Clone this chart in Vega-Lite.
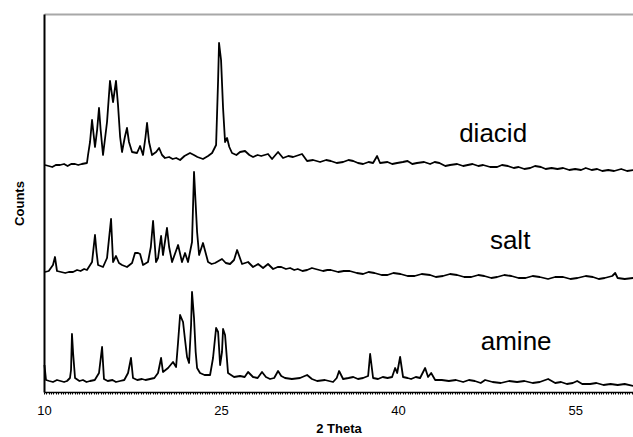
{
  "$schema": "https://vega.github.io/schema/vega-lite/v6.json",
  "width": 589,
  "height": 378,
  "autosize": {"type": "none"},
  "padding": {"left": 44, "top": 14, "right": 0, "bottom": 45},
  "background": "white",
  "config": {"view": {"stroke": null}, "font": "Liberation Sans"},
  "datasets": {
    "traces": [
      {"sample": "diacid", "theta": 10.08, "counts": 227},
      {"sample": "diacid", "theta": 10.4, "counts": 226},
      {"sample": "diacid", "theta": 10.7, "counts": 225},
      {"sample": "diacid", "theta": 11.0, "counts": 227},
      {"sample": "diacid", "theta": 11.36, "counts": 227},
      {"sample": "diacid", "theta": 11.7, "counts": 228},
      {"sample": "diacid", "theta": 12.0, "counts": 226},
      {"sample": "diacid", "theta": 12.3, "counts": 228},
      {"sample": "diacid", "theta": 12.63, "counts": 228},
      {"sample": "diacid", "theta": 12.9, "counts": 227},
      {"sample": "diacid", "theta": 13.2, "counts": 228},
      {"sample": "diacid", "theta": 13.64, "counts": 229},
      {"sample": "diacid", "theta": 13.73, "counts": 237},
      {"sample": "diacid", "theta": 13.9, "counts": 250},
      {"sample": "diacid", "theta": 14.07, "counts": 272},
      {"sample": "diacid", "theta": 14.32, "counts": 245},
      {"sample": "diacid", "theta": 14.5, "counts": 262},
      {"sample": "diacid", "theta": 14.66, "counts": 284},
      {"sample": "diacid", "theta": 14.8, "counts": 262},
      {"sample": "diacid", "theta": 15.0, "counts": 237},
      {"sample": "diacid", "theta": 15.34, "counts": 270},
      {"sample": "diacid", "theta": 15.59, "counts": 311},
      {"sample": "diacid", "theta": 15.85, "counts": 290},
      {"sample": "diacid", "theta": 16.1, "counts": 311},
      {"sample": "diacid", "theta": 16.27, "counts": 287},
      {"sample": "diacid", "theta": 16.45, "counts": 255},
      {"sample": "diacid", "theta": 16.61, "counts": 240},
      {"sample": "diacid", "theta": 16.85, "counts": 255},
      {"sample": "diacid", "theta": 17.03, "counts": 264},
      {"sample": "diacid", "theta": 17.2, "counts": 250},
      {"sample": "diacid", "theta": 17.46, "counts": 240},
      {"sample": "diacid", "theta": 17.88, "counts": 239},
      {"sample": "diacid", "theta": 18.14, "counts": 246},
      {"sample": "diacid", "theta": 18.39, "counts": 237},
      {"sample": "diacid", "theta": 18.6, "counts": 255},
      {"sample": "diacid", "theta": 18.73, "counts": 269},
      {"sample": "diacid", "theta": 18.9, "counts": 250},
      {"sample": "diacid", "theta": 19.15, "counts": 237},
      {"sample": "diacid", "theta": 19.5, "counts": 240},
      {"sample": "diacid", "theta": 19.75, "counts": 244},
      {"sample": "diacid", "theta": 20.0, "counts": 237},
      {"sample": "diacid", "theta": 20.25, "counts": 234},
      {"sample": "diacid", "theta": 20.6, "counts": 235},
      {"sample": "diacid", "theta": 20.9, "counts": 233},
      {"sample": "diacid", "theta": 21.2, "counts": 234},
      {"sample": "diacid", "theta": 21.53, "counts": 232},
      {"sample": "diacid", "theta": 21.9, "counts": 236},
      {"sample": "diacid", "theta": 22.37, "counts": 239},
      {"sample": "diacid", "theta": 22.7, "counts": 237},
      {"sample": "diacid", "theta": 23.0, "counts": 235},
      {"sample": "diacid", "theta": 23.47, "counts": 233},
      {"sample": "diacid", "theta": 23.9, "counts": 236},
      {"sample": "diacid", "theta": 24.24, "counts": 239},
      {"sample": "diacid", "theta": 24.58, "counts": 247},
      {"sample": "diacid", "theta": 24.75, "counts": 312},
      {"sample": "diacid", "theta": 24.83, "counts": 349},
      {"sample": "diacid", "theta": 25.0, "counts": 332},
      {"sample": "diacid", "theta": 25.17, "counts": 284},
      {"sample": "diacid", "theta": 25.34, "counts": 250},
      {"sample": "diacid", "theta": 25.51, "counts": 254},
      {"sample": "diacid", "theta": 25.7, "counts": 245},
      {"sample": "diacid", "theta": 25.93, "counts": 239},
      {"sample": "diacid", "theta": 26.3, "counts": 237},
      {"sample": "diacid", "theta": 26.61, "counts": 240},
      {"sample": "diacid", "theta": 27.03, "counts": 241},
      {"sample": "diacid", "theta": 27.4, "counts": 237},
      {"sample": "diacid", "theta": 27.71, "counts": 235},
      {"sample": "diacid", "theta": 28.1, "counts": 237},
      {"sample": "diacid", "theta": 28.4, "counts": 236},
      {"sample": "diacid", "theta": 28.98, "counts": 238},
      {"sample": "diacid", "theta": 29.32, "counts": 233},
      {"sample": "diacid", "theta": 29.83, "counts": 240},
      {"sample": "diacid", "theta": 30.25, "counts": 234},
      {"sample": "diacid", "theta": 30.7, "counts": 236},
      {"sample": "diacid", "theta": 31.1, "counts": 235},
      {"sample": "diacid", "theta": 31.86, "counts": 238},
      {"sample": "diacid", "theta": 32.29, "counts": 231},
      {"sample": "diacid", "theta": 32.8, "counts": 232},
      {"sample": "diacid", "theta": 33.39, "counts": 230},
      {"sample": "diacid", "theta": 33.9, "counts": 232},
      {"sample": "diacid", "theta": 34.3, "counts": 231},
      {"sample": "diacid", "theta": 34.8, "counts": 229},
      {"sample": "diacid", "theta": 35.34, "counts": 230},
      {"sample": "diacid", "theta": 35.8, "counts": 232},
      {"sample": "diacid", "theta": 36.2, "counts": 231},
      {"sample": "diacid", "theta": 36.6, "counts": 229},
      {"sample": "diacid", "theta": 37.03, "counts": 228},
      {"sample": "diacid", "theta": 37.5, "counts": 230},
      {"sample": "diacid", "theta": 37.88, "counts": 229},
      {"sample": "diacid", "theta": 38.22, "counts": 236},
      {"sample": "diacid", "theta": 38.47, "counts": 229},
      {"sample": "diacid", "theta": 39.1, "counts": 230},
      {"sample": "diacid", "theta": 39.5, "counts": 228},
      {"sample": "diacid", "theta": 39.92, "counts": 229},
      {"sample": "diacid", "theta": 40.4, "counts": 230},
      {"sample": "diacid", "theta": 40.8, "counts": 231},
      {"sample": "diacid", "theta": 41.2, "counts": 228},
      {"sample": "diacid", "theta": 41.6, "counts": 229},
      {"sample": "diacid", "theta": 42.2, "counts": 230},
      {"sample": "diacid", "theta": 42.71, "counts": 228},
      {"sample": "diacid", "theta": 43.1, "counts": 230},
      {"sample": "diacid", "theta": 43.5, "counts": 229},
      {"sample": "diacid", "theta": 44.0, "counts": 226},
      {"sample": "diacid", "theta": 44.4, "counts": 227},
      {"sample": "diacid", "theta": 45.0, "counts": 228},
      {"sample": "diacid", "theta": 45.51, "counts": 226},
      {"sample": "diacid", "theta": 46.3, "counts": 228},
      {"sample": "diacid", "theta": 46.8, "counts": 226},
      {"sample": "diacid", "theta": 47.2, "counts": 227},
      {"sample": "diacid", "theta": 47.8, "counts": 225},
      {"sample": "diacid", "theta": 48.39, "counts": 225},
      {"sample": "diacid", "theta": 48.8, "counts": 227},
      {"sample": "diacid", "theta": 49.3, "counts": 226},
      {"sample": "diacid", "theta": 49.8, "counts": 224},
      {"sample": "diacid", "theta": 50.2, "counts": 225},
      {"sample": "diacid", "theta": 50.7, "counts": 223},
      {"sample": "diacid", "theta": 51.19, "counts": 224},
      {"sample": "diacid", "theta": 51.6, "counts": 226},
      {"sample": "diacid", "theta": 52.1, "counts": 225},
      {"sample": "diacid", "theta": 52.5, "counts": 223},
      {"sample": "diacid", "theta": 53.0, "counts": 224},
      {"sample": "diacid", "theta": 53.5, "counts": 223},
      {"sample": "diacid", "theta": 53.98, "counts": 224},
      {"sample": "diacid", "theta": 54.5, "counts": 222},
      {"sample": "diacid", "theta": 55.0, "counts": 223},
      {"sample": "diacid", "theta": 55.5, "counts": 222},
      {"sample": "diacid", "theta": 55.9, "counts": 224},
      {"sample": "diacid", "theta": 56.4, "counts": 222},
      {"sample": "diacid", "theta": 56.86, "counts": 223},
      {"sample": "diacid", "theta": 57.3, "counts": 221},
      {"sample": "diacid", "theta": 57.8, "counts": 222},
      {"sample": "diacid", "theta": 58.3, "counts": 221},
      {"sample": "diacid", "theta": 58.9, "counts": 223},
      {"sample": "diacid", "theta": 59.4, "counts": 221},
      {"sample": "diacid", "theta": 59.92, "counts": 222},

      {"sample": "salt", "theta": 10.08, "counts": 120},
      {"sample": "salt", "theta": 10.4, "counts": 121},
      {"sample": "salt", "theta": 10.76, "counts": 127},
      {"sample": "salt", "theta": 10.93, "counts": 135},
      {"sample": "salt", "theta": 11.1, "counts": 121},
      {"sample": "salt", "theta": 11.45, "counts": 120},
      {"sample": "salt", "theta": 11.8, "counts": 119},
      {"sample": "salt", "theta": 12.1, "counts": 120},
      {"sample": "salt", "theta": 12.46, "counts": 120},
      {"sample": "salt", "theta": 12.8, "counts": 122},
      {"sample": "salt", "theta": 13.1, "counts": 121},
      {"sample": "salt", "theta": 13.4, "counts": 123},
      {"sample": "salt", "theta": 13.64, "counts": 122},
      {"sample": "salt", "theta": 14.07, "counts": 130},
      {"sample": "salt", "theta": 14.32, "counts": 157},
      {"sample": "salt", "theta": 14.45, "counts": 140},
      {"sample": "salt", "theta": 14.58, "counts": 127},
      {"sample": "salt", "theta": 15.0, "counts": 125},
      {"sample": "salt", "theta": 15.34, "counts": 134},
      {"sample": "salt", "theta": 15.68, "counts": 173},
      {"sample": "salt", "theta": 15.85, "counts": 130},
      {"sample": "salt", "theta": 16.1, "counts": 136},
      {"sample": "salt", "theta": 16.35, "counts": 129},
      {"sample": "salt", "theta": 16.61, "counts": 127},
      {"sample": "salt", "theta": 17.03, "counts": 125},
      {"sample": "salt", "theta": 17.46, "counts": 129},
      {"sample": "salt", "theta": 17.71, "counts": 139},
      {"sample": "salt", "theta": 17.97, "counts": 139},
      {"sample": "salt", "theta": 18.14, "counts": 138},
      {"sample": "salt", "theta": 18.39, "counts": 127},
      {"sample": "salt", "theta": 18.81, "counts": 130},
      {"sample": "salt", "theta": 19.05, "counts": 145},
      {"sample": "salt", "theta": 19.24, "counts": 171},
      {"sample": "salt", "theta": 19.49, "counts": 130},
      {"sample": "salt", "theta": 19.66, "counts": 134},
      {"sample": "salt", "theta": 19.92, "counts": 156},
      {"sample": "salt", "theta": 20.08, "counts": 137},
      {"sample": "salt", "theta": 20.42, "counts": 164},
      {"sample": "salt", "theta": 20.6, "counts": 145},
      {"sample": "salt", "theta": 20.85, "counts": 130},
      {"sample": "salt", "theta": 21.36, "counts": 147},
      {"sample": "salt", "theta": 21.69, "counts": 130},
      {"sample": "salt", "theta": 21.95, "counts": 139},
      {"sample": "salt", "theta": 22.2, "counts": 130},
      {"sample": "salt", "theta": 22.54, "counts": 150},
      {"sample": "salt", "theta": 22.71, "counts": 220},
      {"sample": "salt", "theta": 22.97, "counts": 160},
      {"sample": "salt", "theta": 23.14, "counts": 137},
      {"sample": "salt", "theta": 23.47, "counts": 149},
      {"sample": "salt", "theta": 23.9, "counts": 130},
      {"sample": "salt", "theta": 24.2, "counts": 128},
      {"sample": "salt", "theta": 24.49, "counts": 129},
      {"sample": "salt", "theta": 25.08, "counts": 133},
      {"sample": "salt", "theta": 25.4, "counts": 129},
      {"sample": "salt", "theta": 25.76, "counts": 128},
      {"sample": "salt", "theta": 26.1, "counts": 132},
      {"sample": "salt", "theta": 26.36, "counts": 142},
      {"sample": "salt", "theta": 26.78, "counts": 128},
      {"sample": "salt", "theta": 27.29, "counts": 130},
      {"sample": "salt", "theta": 27.71, "counts": 125},
      {"sample": "salt", "theta": 28.14, "counts": 128},
      {"sample": "salt", "theta": 28.56, "counts": 124},
      {"sample": "salt", "theta": 28.98, "counts": 128},
      {"sample": "salt", "theta": 29.41, "counts": 123},
      {"sample": "salt", "theta": 29.8, "counts": 125},
      {"sample": "salt", "theta": 30.1, "counts": 125},
      {"sample": "salt", "theta": 30.5, "counts": 123},
      {"sample": "salt", "theta": 30.85, "counts": 124},
      {"sample": "salt", "theta": 31.2, "counts": 122},
      {"sample": "salt", "theta": 31.5, "counts": 123},
      {"sample": "salt", "theta": 31.9, "counts": 121},
      {"sample": "salt", "theta": 32.29, "counts": 122},
      {"sample": "salt", "theta": 32.7, "counts": 124},
      {"sample": "salt", "theta": 33.0, "counts": 123},
      {"sample": "salt", "theta": 33.64, "counts": 121},
      {"sample": "salt", "theta": 34.0, "counts": 122},
      {"sample": "salt", "theta": 34.3, "counts": 122},
      {"sample": "salt", "theta": 34.92, "counts": 120},
      {"sample": "salt", "theta": 35.4, "counts": 121},
      {"sample": "salt", "theta": 35.9, "counts": 121},
      {"sample": "salt", "theta": 36.5, "counts": 119},
      {"sample": "salt", "theta": 37.03, "counts": 118},
      {"sample": "salt", "theta": 37.5, "counts": 120},
      {"sample": "salt", "theta": 38.0, "counts": 119},
      {"sample": "salt", "theta": 38.6, "counts": 117},
      {"sample": "salt", "theta": 39.1, "counts": 117},
      {"sample": "salt", "theta": 39.6, "counts": 119},
      {"sample": "salt", "theta": 40.2, "counts": 118},
      {"sample": "salt", "theta": 40.8, "counts": 116},
      {"sample": "salt", "theta": 41.4, "counts": 116},
      {"sample": "salt", "theta": 42.0, "counts": 118},
      {"sample": "salt", "theta": 42.71, "counts": 117},
      {"sample": "salt", "theta": 43.2, "counts": 115},
      {"sample": "salt", "theta": 43.8, "counts": 116},
      {"sample": "salt", "theta": 44.4, "counts": 118},
      {"sample": "salt", "theta": 45.0, "counts": 117},
      {"sample": "salt", "theta": 45.6, "counts": 115},
      {"sample": "salt", "theta": 46.2, "counts": 115},
      {"sample": "salt", "theta": 46.8, "counts": 117},
      {"sample": "salt", "theta": 47.3, "counts": 116},
      {"sample": "salt", "theta": 47.9, "counts": 114},
      {"sample": "salt", "theta": 48.39, "counts": 115},
      {"sample": "salt", "theta": 49.0, "counts": 117},
      {"sample": "salt", "theta": 49.6, "counts": 116},
      {"sample": "salt", "theta": 50.2, "counts": 114},
      {"sample": "salt", "theta": 50.8, "counts": 114},
      {"sample": "salt", "theta": 51.4, "counts": 116},
      {"sample": "salt", "theta": 52.0, "counts": 115},
      {"sample": "salt", "theta": 52.7, "counts": 113},
      {"sample": "salt", "theta": 53.3, "counts": 115},
      {"sample": "salt", "theta": 53.98, "counts": 115},
      {"sample": "salt", "theta": 54.6, "counts": 113},
      {"sample": "salt", "theta": 55.2, "counts": 114},
      {"sample": "salt", "theta": 55.9, "counts": 116},
      {"sample": "salt", "theta": 56.5, "counts": 115},
      {"sample": "salt", "theta": 57.0, "counts": 113},
      {"sample": "salt", "theta": 57.5, "counts": 114},
      {"sample": "salt", "theta": 58.14, "counts": 116},
      {"sample": "salt", "theta": 58.39, "counts": 119},
      {"sample": "salt", "theta": 58.6, "counts": 114},
      {"sample": "salt", "theta": 59.2, "counts": 113},
      {"sample": "salt", "theta": 59.92, "counts": 114},

      {"sample": "amine", "theta": 10.04, "counts": 27},
      {"sample": "amine", "theta": 10.17, "counts": 12},
      {"sample": "amine", "theta": 10.45, "counts": 11},
      {"sample": "amine", "theta": 10.76, "counts": 10},
      {"sample": "amine", "theta": 11.1, "counts": 12},
      {"sample": "amine", "theta": 11.4, "counts": 11},
      {"sample": "amine", "theta": 11.7, "counts": 10},
      {"sample": "amine", "theta": 11.95, "counts": 11},
      {"sample": "amine", "theta": 12.2, "counts": 14},
      {"sample": "amine", "theta": 12.29, "counts": 22},
      {"sample": "amine", "theta": 12.37, "counts": 58},
      {"sample": "amine", "theta": 12.47, "counts": 38},
      {"sample": "amine", "theta": 12.63, "counts": 14},
      {"sample": "amine", "theta": 13.0, "counts": 11},
      {"sample": "amine", "theta": 13.3, "counts": 12},
      {"sample": "amine", "theta": 13.6, "counts": 10},
      {"sample": "amine", "theta": 13.9, "counts": 11},
      {"sample": "amine", "theta": 14.3, "counts": 12},
      {"sample": "amine", "theta": 14.66, "counts": 19},
      {"sample": "amine", "theta": 14.92, "counts": 45},
      {"sample": "amine", "theta": 15.08, "counts": 13},
      {"sample": "amine", "theta": 15.4, "counts": 11},
      {"sample": "amine", "theta": 15.8, "counts": 12},
      {"sample": "amine", "theta": 16.1, "counts": 10},
      {"sample": "amine", "theta": 16.44, "counts": 11},
      {"sample": "amine", "theta": 16.8, "counts": 12},
      {"sample": "amine", "theta": 17.12, "counts": 19},
      {"sample": "amine", "theta": 17.37, "counts": 34},
      {"sample": "amine", "theta": 17.54, "counts": 14},
      {"sample": "amine", "theta": 17.9, "counts": 12},
      {"sample": "amine", "theta": 18.3, "counts": 13},
      {"sample": "amine", "theta": 18.6, "counts": 12},
      {"sample": "amine", "theta": 18.98, "counts": 13},
      {"sample": "amine", "theta": 19.35, "counts": 14},
      {"sample": "amine", "theta": 19.66, "counts": 19},
      {"sample": "amine", "theta": 19.92, "counts": 34},
      {"sample": "amine", "theta": 20.08, "counts": 20},
      {"sample": "amine", "theta": 20.51, "counts": 24},
      {"sample": "amine", "theta": 20.93, "counts": 30},
      {"sample": "amine", "theta": 21.19, "counts": 25},
      {"sample": "amine", "theta": 21.36, "counts": 50},
      {"sample": "amine", "theta": 21.53, "counts": 77},
      {"sample": "amine", "theta": 21.78, "counts": 70},
      {"sample": "amine", "theta": 21.95, "counts": 52},
      {"sample": "amine", "theta": 22.12, "counts": 35},
      {"sample": "amine", "theta": 22.29, "counts": 29},
      {"sample": "amine", "theta": 22.46, "counts": 67},
      {"sample": "amine", "theta": 22.54, "counts": 100},
      {"sample": "amine", "theta": 22.71, "counts": 74},
      {"sample": "amine", "theta": 22.85, "counts": 40},
      {"sample": "amine", "theta": 22.97, "counts": 24},
      {"sample": "amine", "theta": 23.22, "counts": 19},
      {"sample": "amine", "theta": 23.6, "counts": 17},
      {"sample": "amine", "theta": 24.07, "counts": 17},
      {"sample": "amine", "theta": 24.32, "counts": 34},
      {"sample": "amine", "theta": 24.58, "counts": 64},
      {"sample": "amine", "theta": 24.75, "counts": 60},
      {"sample": "amine", "theta": 24.92, "counts": 27},
      {"sample": "amine", "theta": 25.08, "counts": 40},
      {"sample": "amine", "theta": 25.17, "counts": 63},
      {"sample": "amine", "theta": 25.34, "counts": 57},
      {"sample": "amine", "theta": 25.59, "counts": 19},
      {"sample": "amine", "theta": 26.1, "counts": 15},
      {"sample": "amine", "theta": 26.61, "counts": 16},
      {"sample": "amine", "theta": 27.0, "counts": 15},
      {"sample": "amine", "theta": 27.29, "counts": 20},
      {"sample": "amine", "theta": 27.71, "counts": 15},
      {"sample": "amine", "theta": 28.1, "counts": 14},
      {"sample": "amine", "theta": 28.47, "counts": 20},
      {"sample": "amine", "theta": 28.8, "counts": 15},
      {"sample": "amine", "theta": 29.15, "counts": 13},
      {"sample": "amine", "theta": 29.5, "counts": 14},
      {"sample": "amine", "theta": 29.83, "counts": 21},
      {"sample": "amine", "theta": 30.1, "counts": 16},
      {"sample": "amine", "theta": 30.42, "counts": 14},
      {"sample": "amine", "theta": 31.0, "counts": 13},
      {"sample": "amine", "theta": 31.69, "counts": 14},
      {"sample": "amine", "theta": 32.29, "counts": 17},
      {"sample": "amine", "theta": 32.7, "counts": 13},
      {"sample": "amine", "theta": 33.14, "counts": 11},
      {"sample": "amine", "theta": 33.8, "counts": 12},
      {"sample": "amine", "theta": 34.49, "counts": 10},
      {"sample": "amine", "theta": 34.8, "counts": 14},
      {"sample": "amine", "theta": 35.0, "counts": 21},
      {"sample": "amine", "theta": 35.34, "counts": 13},
      {"sample": "amine", "theta": 35.8, "counts": 14},
      {"sample": "amine", "theta": 36.2, "counts": 15},
      {"sample": "amine", "theta": 36.6, "counts": 13},
      {"sample": "amine", "theta": 37.03, "counts": 14},
      {"sample": "amine", "theta": 37.46, "counts": 16},
      {"sample": "amine", "theta": 37.63, "counts": 38},
      {"sample": "amine", "theta": 37.88, "counts": 14},
      {"sample": "amine", "theta": 38.3, "counts": 13},
      {"sample": "amine", "theta": 38.7, "counts": 15},
      {"sample": "amine", "theta": 39.1, "counts": 14},
      {"sample": "amine", "theta": 39.49, "counts": 15},
      {"sample": "amine", "theta": 39.75, "counts": 24},
      {"sample": "amine", "theta": 39.92, "counts": 19},
      {"sample": "amine", "theta": 40.17, "counts": 35},
      {"sample": "amine", "theta": 40.42, "counts": 15},
      {"sample": "amine", "theta": 40.8, "counts": 14},
      {"sample": "amine", "theta": 41.1, "counts": 13},
      {"sample": "amine", "theta": 41.5, "counts": 15},
      {"sample": "amine", "theta": 41.86, "counts": 14},
      {"sample": "amine", "theta": 42.29, "counts": 24},
      {"sample": "amine", "theta": 42.54, "counts": 15},
      {"sample": "amine", "theta": 42.8, "counts": 19},
      {"sample": "amine", "theta": 43.14, "counts": 12},
      {"sample": "amine", "theta": 43.7, "counts": 12},
      {"sample": "amine", "theta": 44.3, "counts": 11},
      {"sample": "amine", "theta": 44.9, "counts": 12},
      {"sample": "amine", "theta": 45.51, "counts": 10},
      {"sample": "amine", "theta": 46.0, "counts": 12},
      {"sample": "amine", "theta": 46.5, "counts": 11},
      {"sample": "amine", "theta": 47.0, "counts": 9},
      {"sample": "amine", "theta": 47.37, "counts": 12},
      {"sample": "amine", "theta": 48.0, "counts": 10},
      {"sample": "amine", "theta": 48.7, "counts": 9},
      {"sample": "amine", "theta": 49.4, "counts": 11},
      {"sample": "amine", "theta": 50.08, "counts": 10},
      {"sample": "amine", "theta": 50.7, "counts": 11},
      {"sample": "amine", "theta": 51.4, "counts": 9},
      {"sample": "amine", "theta": 52.0, "counts": 10},
      {"sample": "amine", "theta": 52.71, "counts": 13},
      {"sample": "amine", "theta": 53.31, "counts": 9},
      {"sample": "amine", "theta": 53.8, "counts": 10},
      {"sample": "amine", "theta": 54.3, "counts": 8},
      {"sample": "amine", "theta": 54.8, "counts": 9},
      {"sample": "amine", "theta": 55.17, "counts": 11},
      {"sample": "amine", "theta": 55.6, "counts": 8},
      {"sample": "amine", "theta": 56.27, "counts": 8},
      {"sample": "amine", "theta": 56.8, "counts": 9},
      {"sample": "amine", "theta": 57.4, "counts": 7},
      {"sample": "amine", "theta": 58.0, "counts": 8},
      {"sample": "amine", "theta": 58.6, "counts": 7},
      {"sample": "amine", "theta": 59.2, "counts": 8},
      {"sample": "amine", "theta": 59.92, "counts": 6}
    ],
    "labels": [
      {"label": "diacid", "theta": 48.05, "counts": 250},
      {"label": "salt", "theta": 49.49, "counts": 143},
      {"label": "amine", "theta": 50.0, "counts": 42}
    ]
  },
  "layer": [
    {
      "data": {"name": "traces"},
      "mark": {"type": "line", "color": "black", "strokeWidth": 1.8, "strokeJoin": "round"},
      "encoding": {
        "x": {
          "field": "theta", "type": "quantitative",
          "scale": {"domain": [10, 59.9], "nice": false, "zero": false},
          "axis": {
            "orient": "bottom", "grid": false, "tickCount": 250,
            "tickSize": 2, "tickColor": "black", "tickWidth": 1,
            "domainColor": "black", "domainWidth": 1.5,
            "labelExpr": "(abs(datum.value - round(datum.value)) < 0.01 && (round(datum.value) - 10) % 15 == 0) ? format(datum.value, 'd') : ''",
            "labelOverlap": false, "labelFlush": false, "labelFontSize": 13, "labelColor": "black",
            "labelPadding": 10,
            "title": "2 Theta", "titleFontSize": 13, "titleFontWeight": "bold", "titleColor": "black",
            "titlePadding": 5
          }
        },
        "y": {
          "field": "counts", "type": "quantitative",
          "scale": {"domain": [0, 378], "nice": false},
          "axis": {
            "orient": "left", "grid": false, "ticks": false, "labels": false,
            "domainColor": "black", "domainWidth": 2,
            "title": "Counts", "titleFontSize": 13, "titleFontWeight": "bold", "titleColor": "black",
            "titlePadding": 18
          }
        },
        "detail": {"field": "sample", "type": "nominal"}
      }
    },
    {
      "data": {"name": "labels"},
      "mark": {"type": "text", "fontSize": 26, "align": "center", "baseline": "alphabetic", "color": "black"},
      "encoding": {
        "x": {
          "field": "theta", "type": "quantitative",
          "axis": {"orient": "top", "grid": false, "ticks": false, "labels": false, "title": null,
                   "domainColor": "#a8a8a8", "domainWidth": 2}
        },
        "y": {"field": "counts", "type": "quantitative"},
        "text": {"field": "label"}
      }
    }
  ],
  "resolve": {"axis": {"x": "independent"}}
}
